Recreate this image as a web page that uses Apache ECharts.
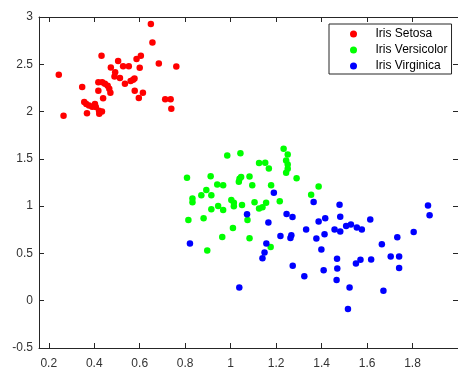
<!DOCTYPE html>
<html>
<head>
<meta charset="utf-8">
<script src="https://cdn.jsdelivr.net/npm/echarts@6/dist/echarts.min.js"></script>
<style>
  html, body { margin: 0; padding: 0; background: #fff; }
  #chart { width: 458px; height: 370px; }
</style>
</head>
<body>
<div id="chart"></div>
<script>
// Iris samples projected onto two components
const seriesNames = ['Iris Setosa', 'Iris Versicolor', 'Iris Virginica'];

const setosa = [
  [0.649,2.926],[0.656,2.731],[0.432,2.589],[0.244,2.389],[0.684,2.507],[0.761,2.476],
  [0.605,2.589],[0.586,2.557],[0.505,2.536],[0.527,2.480],[0.552,2.480],[0.600,2.463],
  [0.473,2.466],[0.492,2.415],[0.489,2.370],[0.513,2.354],[0.535,2.294],[0.560,2.322],
  [0.571,2.336],[0.577,2.350],[0.578,2.220],[0.614,2.199],[0.596,2.144],[0.712,2.129],
  [0.736,2.129],[0.739,2.031],[0.347,2.260],[0.418,2.310],[0.435,2.310],[0.447,2.294],
  [0.459,2.273],[0.466,2.241],[0.471,2.199],[0.418,2.220],[0.439,2.141],[0.356,2.101],
  [0.365,2.080],[0.377,2.065],[0.391,2.052],[0.403,2.080],[0.407,2.048],[0.368,1.983],
  [0.421,2.009],[0.434,2.002],[0.422,1.978],[0.265,1.955]
];

const versicolor = [
  [1.233,1.606],[1.251,1.546],[1.244,1.483],[1.251,1.440],[1.251,1.395],[1.244,1.353],
  [0.985,1.535],[1.043,1.560],[1.125,1.456],[1.152,1.458],[1.168,1.398],[1.290,1.296],
  [0.808,1.300],[0.912,1.317],[0.941,1.230],[0.967,1.222],[1.039,1.290],[1.046,1.307],
  [1.036,1.258],[1.083,1.314],[1.095,1.222],[1.178,1.222],[1.387,1.209],[0.893,1.170],
  [0.871,1.114],[0.915,1.114],[0.832,1.082],[0.832,1.040],[1.003,1.066],[1.014,1.035],
  [1.014,0.998],[0.945,1.001],[0.967,0.959],[0.915,0.966],[1.050,1.012],[1.105,1.040],
  [1.125,0.974],[1.140,0.987],[1.156,1.037],[1.216,1.051],[1.354,1.121],[0.814,0.854],
  [0.881,0.871],[1.074,0.854],[1.010,0.768],[0.963,0.674],[1.083,0.661],[0.897,0.531],
  [1.176,0.569]
];

const virginica = [
  [1.190,1.142],[1.365,1.045],[1.479,1.016],[1.868,1.008],[1.875,0.903],[1.072,0.914],
  [1.246,0.916],[1.272,0.885],[1.482,0.889],[1.416,0.871],[1.387,0.837],[1.614,0.858],
  [1.166,0.826],[1.332,0.752],[1.457,0.752],[1.482,0.731],[1.508,0.790],[1.529,0.805],
  [1.555,0.774],[1.577,0.752],[1.413,0.703],[1.377,0.657],[1.219,0.685],[1.267,0.692],
  [1.263,0.664],[1.805,0.727],[1.733,0.671],[0.821,0.605],[1.157,0.605],[1.665,0.597],
  [1.399,0.542],[1.149,0.510],[1.140,0.450],[1.468,0.443],[1.571,0.432],[1.551,0.394],
  [1.618,0.436],[1.704,0.468],[1.741,0.468],[1.741,0.345],[1.469,0.341],[1.409,0.323],
  [1.273,0.369],[1.324,0.260],[1.466,0.218],[1.523,0.141],[1.672,0.105],[1.038,0.141],
  [1.516,-0.087]
];

const xTicks = [0.2, 0.4, 0.6, 0.8, 1, 1.2, 1.4, 1.6, 1.8];
const xRange = [0.157, 2.0];
const yRange = [-0.5, 3];
const yStep = 0.5;

const colors = ['#ff0000', '#00ff00', '#0000ff'];
const font = 'Liberation Sans, Arial, sans-serif';
const axisColor = '#262626';

function boxAxis(base) {
  return Object.assign({
    axisLine: { show: true, onZero: false, lineStyle: { color: axisColor, width: 1 } },
    axisTick: { show: true, inside: true, length: 5, lineStyle: { color: axisColor } },
    splitLine: { show: false }
  }, base);
}

const chart = echarts.init(document.getElementById('chart'), null, { renderer: 'canvas' });

chart.setOption({
  animation: false,
  backgroundColor: '#ffffff',
  grid: { left: 39, top: 17, right: -1, bottom: 21 },
  legend: {
    orient: 'vertical',
    left: 329,
    top: 24,
    data: seriesNames,
    icon: 'circle',
    itemWidth: 34,
    itemHeight: 7,
    itemGap: 4,
    padding: [4, 4, 2, 21],
    borderColor: axisColor,
    borderWidth: 1,
    borderRadius: 0,
    backgroundColor: '#ffffff',
    textStyle: { fontFamily: font, fontSize: 12, color: '#000' }
  },
  xAxis: [
    boxAxis({
      type: 'value', position: 'bottom', min: xRange[0], max: xRange[1],
      axisTick: { show: true, inside: true, length: 5, customValues: xTicks, lineStyle: { color: axisColor } },
      axisLabel: { customValues: xTicks, fontFamily: font, fontSize: 12, color: '#333', margin: 10 }
    }),
    boxAxis({
      type: 'value', position: 'top', min: xRange[0], max: xRange[1],
      axisTick: { show: true, inside: true, length: 5, customValues: xTicks, lineStyle: { color: axisColor } },
      axisLabel: { show: false }
    })
  ],
  yAxis: [
    boxAxis({
      type: 'value', position: 'left', min: yRange[0], max: yRange[1], interval: yStep,
      axisLabel: { fontFamily: font, fontSize: 12, color: '#333', margin: 6 }
    }),
    boxAxis({
      type: 'value', position: 'right', min: yRange[0], max: yRange[1], interval: yStep,
      axisLabel: { show: false }
    })
  ],
  series: [setosa, versicolor, virginica].map((d, i) => ({
    name: seriesNames[i],
    type: 'scatter',
    data: d,
    symbol: 'circle',
    symbolSize: 6.5,
    itemStyle: { color: colors[i], opacity: 1 },
    xAxisIndex: 0,
    yAxisIndex: 0
  }))
});
</script>
</body>
</html>
